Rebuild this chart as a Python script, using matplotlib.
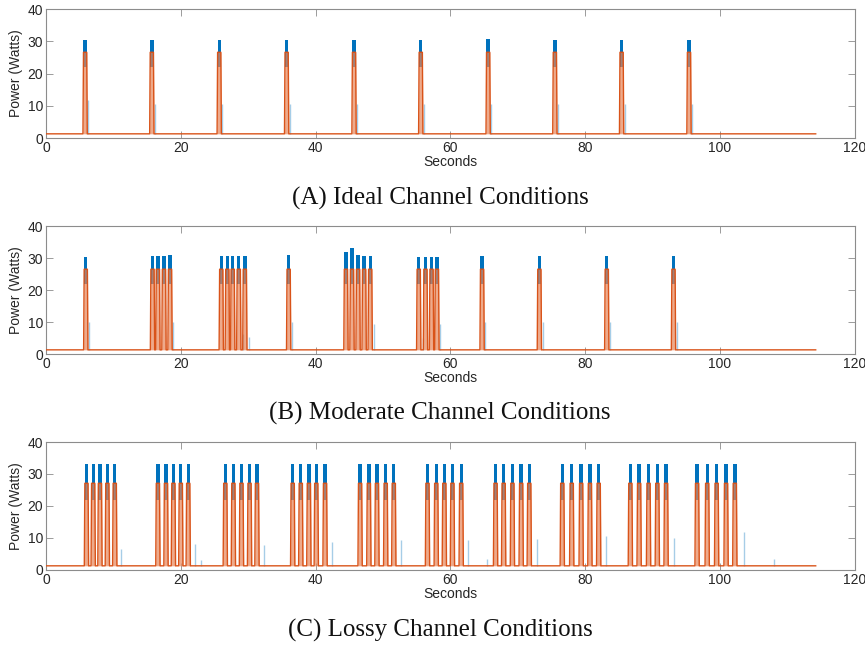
import numpy as np
import matplotlib.pyplot as plt

# spike times (s) and peak powers (W)
t_end = 114.2
base = 1.3

a_spikes = [5.8, 15.7, 25.7, 35.7, 45.7, 55.6, 65.6, 75.5, 85.4, 95.4]
a_blue = [30.4, 30.5, 30.4, 30.4, 30.3, 30.4, 30.6, 30.3, 30.4, 30.5]
a_orange = [26.6] * 10
a_ghost_t = [6.25, 16.15, 26.15, 36.15, 46.15, 56.05, 66.05, 75.95, 85.85, 95.85]
a_ghost_h = [11.7, 10.5, 10.5, 10.5, 10.5, 10.5, 10.5, 10.5, 10.5, 10.5]

b_spikes = [5.9, 15.8, 16.6, 17.5, 18.4, 26.0, 26.9, 27.7, 28.6, 29.5, 36.0,
            44.5, 45.4, 46.3, 47.2, 48.1, 55.3, 56.3, 57.2, 58.0, 64.7, 73.2, 83.2, 93.1]
b_blue = [30.2, 30.5, 30.5, 30.6, 30.8, 30.6, 30.5, 30.7, 30.6, 30.5, 30.8,
          31.8, 33.0, 31.0, 30.6, 30.6, 30.2, 30.2, 30.2, 30.4, 30.6, 30.5, 30.6, 30.7]
b_orange = [26.5] * len(b_spikes)
b_ghost_t = [6.35, 18.9, 29.2, 30.1, 36.5, 48.6, 55.9, 58.5, 65.2, 73.7, 83.7, 93.6]
b_ghost_h = [10.1, 10.0, 6.2, 5.3, 10.0, 9.5, 5.0, 9.5, 10.0, 10.0, 10.0, 10.0]

c_spikes = [6.0, 7.0, 8.0, 9.1, 10.2,
            16.6, 17.8, 18.9, 20.0, 21.1,
            26.6, 27.8, 29.0, 30.2, 31.3,
            36.6, 37.8, 39.0, 40.1, 41.4,
            46.6, 47.9, 49.1, 50.4, 51.6,
            56.6, 57.9, 59.1, 60.3, 61.6,
            66.7, 67.9, 69.2, 70.5, 71.7,
            76.6, 78.0, 79.4, 80.7, 82.0,
            86.7, 88.0, 89.4, 90.7, 92.0,
            96.6, 98.1, 99.5, 100.9, 102.2]
c_blue = [33.1] * len(c_spikes)
c_orange = [27.1] * len(c_spikes)
c_ghost_t = [11.1, 22.1, 23.0, 32.3, 42.4, 52.6, 62.6, 65.5, 72.8, 83.1, 93.2, 103.5, 108.0]
c_ghost_h = [6.6, 8.1, 3.1, 7.8, 8.9, 9.4, 9.4, 3.4, 9.7, 10.7, 10.1, 12.0, 3.3]

captions = ['(A) Ideal Channel Conditions',
            '(B) Moderate Channel Conditions',
            '(C) Lossy Channel Conditions']

blue = '#0072BD'
orange = '#D95319'


def trace(spikes, tops, half_base, half_top):
    x = [0.0]
    y = [base]
    for t, h in zip(spikes, tops):
        x += [t - half_base, t - half_top, t + half_top, t + half_base]
        y += [base, h, h, base]
    x.append(t_end)
    y.append(base)
    return np.array(x), np.array(y)


def draw(ax, spikes, btops, otops, gt, gh):
    # blue caps
    for t, h in zip(spikes, btops):
        ax.fill_between([t - 0.25, t + 0.25], 22, h, color=blue, lw=0, zorder=2)
    ax.vlines(gt, base, gh, color=blue, alpha=0.35, lw=1.0, zorder=2)
    ox, oy = trace(spikes, otops, 0.32, 0.24)
    ax.fill_between(ox, base, oy, color='#E8875A', alpha=0.7, lw=0, zorder=3)
    ax.plot(ox, oy, color=orange, lw=1.0, zorder=4)


plt.rcParams['font.family'] = ['Liberation Sans', 'DejaVu Sans']

fig = plt.figure(figsize=(8.65, 6.48), dpi=100)
rects = [[0.0532, 0.787, 0.935, 0.199],
         [0.0532, 0.4537, 0.935, 0.1975],
         [0.0532, 0.1204, 0.935, 0.1975]]
datasets = [(a_spikes, a_blue, a_orange, a_ghost_t, a_ghost_h),
            (b_spikes, b_blue, b_orange, b_ghost_t, b_ghost_h),
            (c_spikes, c_blue, c_orange, c_ghost_t, c_ghost_h)]
cap_y = [198, 413, 630]

for r, d, cap, cy in zip(rects, datasets, captions, cap_y):
    ax = fig.add_axes(r)
    draw(ax, *d)
    ax.set_xlim(0, 120)
    ax.set_ylim(0, 40)
    ax.set_xticks(range(0, 121, 20))
    ax.set_yticks(range(0, 41, 10))
    ax.tick_params(direction='in', top=True, right=True, length=5, width=0.6,
                   color='#8c8c8c', labelcolor='#262626', labelsize=10, pad=2)
    for s in ax.spines.values():
        s.set_color('#8c8c8c')
        s.set_linewidth(0.8)
    ax.set_xlabel('Seconds', fontsize=10, color='#262626', labelpad=0)
    ax.set_ylabel('Power (Watts)', fontsize=10, color='#262626', labelpad=3)
    fig.text(440 / 865, 1 - cy / 648, cap, ha='center', va='center',
             family='Liberation Serif', fontsize=18, color='#111111')

fig.savefig('out.png', dpi=100)
